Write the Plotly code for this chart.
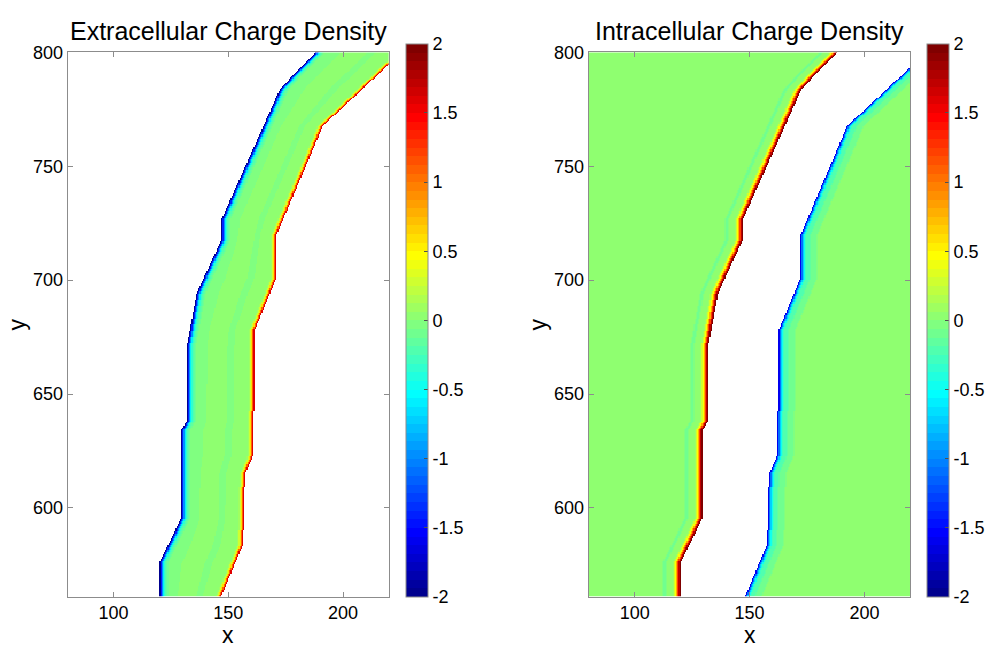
import numpy as np
import plotly.graph_objects as go

# ---------------- data ----------------
x_range = [80, 220]
y_range = [561, 800]
grid_step = 0.5

# extracellular band: left boundary (membrane of cell 1) as polyline vertices
left_bnd_y = [561, 575.4, 595.2, 633.7, 638.0, 670.4, 694.2, 717.9, 726.6, 784.0, 800]
left_bnd_x = [119.8, 119.8, 129.4, 129.4, 131.9, 131.9, 136.3, 147.1, 147.1, 172.6, 188.2]
# right boundary (membrane of cell 2)
right_bnd_y = [561, 584.0, 614.7, 622.9, 678.2, 700.6, 719.2, 767.6, 794.0, 800]
right_bnd_x = [147.0, 156.6, 157.4, 161.0, 161.7, 170.9, 170.9, 191.3, 219.4, 225.8]
membrane_gap = 1.0

# charge density profiles (one value per grid step away from the membrane)
ext_left_edge = [-1.95, -1.4, -0.95, -0.6, -0.35, -0.2, -0.13, -0.09]
ext_right_edge = [1.6, 1.1, 0.6, 0.3, 0.12]
ext_interior = [-0.07, -0.05, -0.03, 0.01, 0.02, 0.03, -0.01, 0.03, 0.05, 0.04]
intra_left_edge = [1.95, 1.7, 1.2, 0.8, 0.45, 0.25, 0.12, 0.06, 0.03, 0.02,
                   0.01, 0.0, -0.03, -0.08, -0.08, -0.03]
intra_right_edge = [-1.6, -1.1, -0.7, -0.45, -0.3, -0.25, -0.22, -0.2, -0.15,
                    -0.12, -0.1, -0.1, -0.08, -0.07, -0.03]

x_ticks = [100, 150, 200]
y_ticks = [600, 650, 700, 750, 800]
cbar_ticks = [-2, -1.5, -1, -0.5, 0, 0.5, 1, 1.5, 2]
cbar_labels = ["-2", "-1.5", "-1", "-0.5", "0", "0.5", "1", "1.5", "2"]
titles = ["Extracellular Charge Density", "Intracellular Charge Density"]

# ---------------- build fields ----------------
xs = np.arange(x_range[0] + grid_step / 2, x_range[1], grid_step)
ys = np.arange(y_range[0] + grid_step / 2, y_range[1], grid_step)
X, Y = np.meshgrid(xs, ys)
L = np.interp(ys, left_bnd_y, left_bnd_x)[:, None] * np.ones_like(X)
R = np.interp(ys, right_bnd_y, right_bnd_x)[:, None] * np.ones_like(X)


def lookup(arr, d):
    arr = np.asarray(arr, dtype=float)
    idx = np.clip(np.floor(d / grid_step).astype(int), 0, len(arr) - 1)
    return arr[idx]


# extracellular
ext = np.full(X.shape, np.nan)
band = (X >= L) & (X <= R)
t = np.clip((X - L) / np.maximum(R - L, 1e-6), 0, 0.9999)
interior = np.asarray(ext_interior)[(t * len(ext_interior)).astype(int)]
dl = X - L
dr = R - X
val = interior.copy()
val = np.where(dl < len(ext_left_edge) * grid_step, lookup(ext_left_edge, dl), val)
val = np.where(dr < len(ext_right_edge) * grid_step, lookup(ext_right_edge, dr), val)
ext[band] = val[band]

# intracellular
intra = np.full(X.shape, np.nan)
cell1 = X < L
d1 = L - X - 1e-9
v1 = np.where(d1 < len(intra_left_edge) * grid_step, lookup(intra_left_edge, d1), 0.0)
intra[cell1] = v1[cell1]
cell2 = X > R + membrane_gap
d2 = X - (R + membrane_gap) - 1e-9
v2 = np.where(d2 < len(intra_right_edge) * grid_step, lookup(intra_right_edge, d2), 0.0)
intra[cell2] = v2[cell2]


# ---------------- jet(64) colormap ----------------
def jet64():
    n, m = 64, 16
    u = np.concatenate([np.arange(1, m + 1) / m, np.ones(m - 1), np.arange(m, 0, -1) / m])
    g = 8 + np.arange(1, len(u) + 1)
    r = g + m
    b = g - m
    J = np.zeros((n, 3))
    for arr, col in ((r, 0), (g, 1), (b, 2)):
        ok = (arr >= 1) & (arr <= n)
        J[arr[ok] - 1, col] = u[ok]
    return J


J = jet64()
colorscale = []
for i, c in enumerate(J):
    col = "rgb(%d,%d,%d)" % tuple(int(round(v * 255)) for v in c)
    colorscale.append([i / 64, col])
    colorscale.append([(i + 1) / 64, col])

# ---------------- layout geometry ----------------
W, H = 990, 650
FONT = "Liberation Sans, Arial, Helvetica, sans-serif"
ax_color = "rgb(140,140,140)"
dom_y = [1 - 596 / H, 1 - 43 / H]
dom_x1 = [68 / W, 391 / W]
dom_x2 = [591.7 / W, 915 / W]
cb_x = [408 / W, 932 / W]


def cbar(x):
    return dict(
        x=x, xanchor="left", y=dom_y[0], yanchor="bottom",
        len=553, lenmode="pixels", thickness=22, thicknessmode="pixels",
        outlinecolor=ax_color, outlinewidth=1,
        tickmode="array", tickvals=cbar_ticks, ticktext=cbar_labels,
        ticks="inside", ticklen=4, tickcolor="rgb(80,80,80)",
        tickfont=dict(family=FONT, size=18, color="black"),
        xpad=0, ypad=0,
    )


fig = go.Figure()
fig.add_trace(go.Heatmap(
    x=xs, y=ys, z=ext, zmin=-2, zmax=2, colorscale=colorscale,
    zsmooth=False, colorbar=cbar(cb_x[0]), xaxis="x", yaxis="y",
    hoverongaps=False,
))
fig.add_trace(go.Heatmap(
    x=xs, y=ys, z=intra, zmin=-2, zmax=2, colorscale=colorscale,
    zsmooth=False, colorbar=cbar(cb_x[1]), xaxis="x2", yaxis="y2",
    hoverongaps=False,
))

axis_common = dict(
    showline=True, linecolor=ax_color, linewidth=1, mirror="ticks",
    ticks="inside", ticklen=5, tickcolor=ax_color, showgrid=False,
    zeroline=False, tickfont=dict(family=FONT, size=18, color="black"),
)
fig.update_layout(
    width=W, height=H, margin=dict(l=0, r=0, t=0, b=0),
    paper_bgcolor="white", plot_bgcolor="white", showlegend=False,
    xaxis=dict(domain=dom_x1, range=x_range, tickvals=x_ticks, anchor="y", **axis_common),
    yaxis=dict(domain=dom_y, range=y_range, tickvals=y_ticks, anchor="x", **axis_common),
    xaxis2=dict(domain=dom_x2, range=x_range, tickvals=x_ticks, anchor="y2", **axis_common),
    yaxis2=dict(domain=dom_y, range=y_range, tickvals=y_ticks, anchor="x2", **axis_common),
)

ann = []
for k, dx in enumerate([dom_x1, dom_x2]):
    cx = (dx[0] + dx[1]) / 2
    ann.append(dict(text=titles[k], x=cx, y=1 - 21 / H, xref="paper", yref="paper",
                    xanchor="center", yanchor="middle", showarrow=False,
                    font=dict(family=FONT, size=25, color="black")))
    ann.append(dict(text="x", x=cx, y=1 - 635 / H, xref="paper", yref="paper",
                    xanchor="center", yanchor="middle", showarrow=False,
                    font=dict(family=FONT, size=23, color="black")))
    ann.append(dict(text="y", x=(dx[0] * W - 51) / W, y=(dom_y[0] + dom_y[1]) / 2,
                    xref="paper", yref="paper", xanchor="center", yanchor="middle",
                    textangle=-90, showarrow=False,
                    font=dict(family=FONT, size=23, color="black")))
fig.update_layout(annotations=ann)

fig.write_html("out.html")
